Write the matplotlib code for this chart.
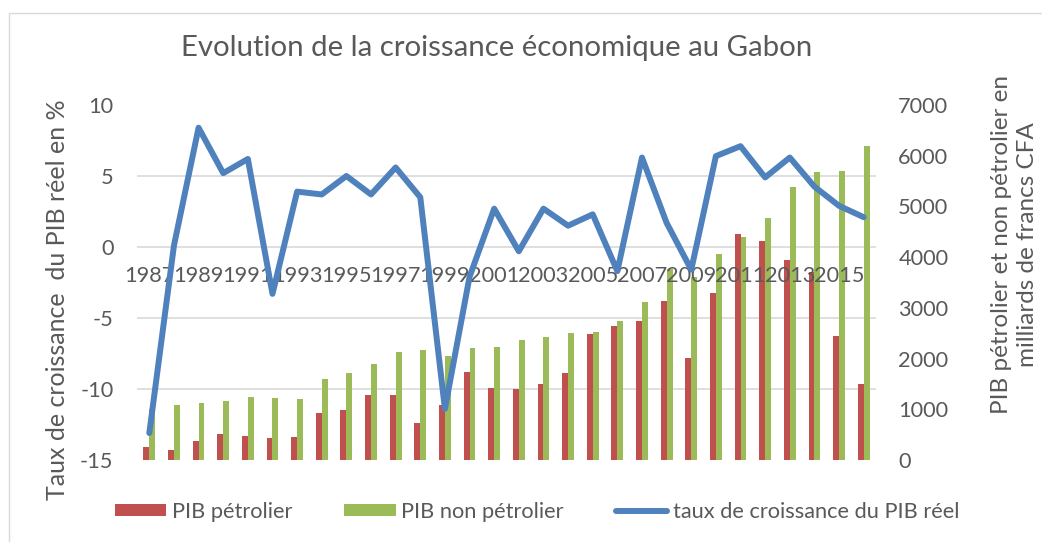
import numpy as np
import matplotlib.pyplot as plt
from matplotlib.patches import Rectangle

years = list(range(1987, 2017))
petrolier = [250, 197, 375, 506, 480, 440, 453, 933, 986, 1282, 1276, 723, 1085, 1735, 1426,
             1400, 1499, 1722, 2485, 2642, 2741, 3129, 2005, 3287, 4450, 4312, 3944, 3701, 2445, 1505]
non_petrolier = [1000, 1085, 1131, 1164, 1236, 1216, 1210, 1604, 1716, 1900, 2130, 2169, 2051, 2215, 2222,
                 2366, 2419, 2504, 2518, 2734, 3116, 3767, 3600, 4062, 4397, 4772, 5390, 5679, 5705, 6192]
croissance = [-13.1, 0.1, 8.4, 5.2, 6.2, -3.3, 3.9, 3.7, 5.0, 3.7, 5.6, 3.5, -11.4, -2.1, 2.7,
              -0.3, 2.7, 1.5, 2.3, -1.7, 6.3, 1.7, -1.6, 6.4, 7.1, 4.9, 6.3, 4.25, 2.9, 2.1]

plt.rcParams['font.family'] = ['Lato', 'DejaVu Sans']
plt.rcParams['axes.unicode_minus'] = False
txt = '#595959'
red, green, blue = '#C0504D', '#9BBB59', '#4F81BD'
fs = 15.7

fig = plt.figure(figsize=(10.42, 5.42), dpi=100)
fig.patches.append(Rectangle((9 / 1042, -0.2), 1.2, 1.2 - 13 / 542, transform=fig.transFigure,
                             fill=False, edgecolor='#D9D9D9', linewidth=1))
ax = fig.add_axes([137 / 1042, 1 - 460 / 542, (876 - 137) / 1042, (460 - 105) / 542])

x = np.arange(len(years))
w = 0.24
ax.bar(x - w / 2, petrolier, w, color=red, label='PIB pétrolier', zorder=2)
ax.bar(x + w / 2, non_petrolier, w, color=green, label='PIB non pétrolier', zorder=2)
ax.set_ylim(0, 7000)
ax.set_xlim(-0.5, len(years) - 0.5)
ax.set_yticks(np.arange(0, 7001, 1000))
ax.set_yticks(np.linspace(0, 7000, 6), minor=True)
ax.grid(which='minor', axis='y', color='#D9D9D9', linewidth=1.2, zorder=0)
for s in ax.spines.values():
    s.set_visible(False)

axl = ax.twinx()
axl.plot(x, croissance, color=blue, linewidth=4.3, solid_joinstyle='round',
         solid_capstyle='round', label='taux de croissance du PIB réel')
axl.set_ylim(-15, 10)
axl.set_yticks([-15, -10, -5, 0, 5, 10])
axl.yaxis.tick_left()
axl.yaxis.set_label_position('left')
axl.tick_params(axis='y', length=0, labelsize=fs, labelcolor=txt, pad=17)
axl.set_ylabel('Taux de croissance  du PIB réel en %', fontsize=18, color=txt, va='center')
axl.yaxis.set_label_coords(-0.108, 0.451)
axl.xaxis.set_visible(True)
axl.spines['bottom'].set_position(('data', 0))
for s in axl.spines.values():
    s.set_visible(False)
axl.set_xticks(x[::2])
axl.set_xticklabels([str(y) for y in years[::2]])
axl.tick_params(axis='x', length=0, labelsize=fs, labelcolor=txt, pad=14)

# host axis keeps the bar scale on the right (twinx resets it to the left)
ax.yaxis.tick_right()
ax.yaxis.set_label_position('right')
ax.tick_params(axis='y', which='both', length=0, labelsize=fs, labelcolor=txt, pad=16)
ax.tick_params(axis='x', length=0, labelbottom=False)
ax.set_ylabel('PIB pétrolier et non pétrolier en\nmilliards de francs CFA', fontsize=17.5,
              color=txt, linespacing=1.3, va='center')
ax.yaxis.set_label_coords(1.187, 0.606)

fig.suptitle('Evolution de la croissance économique au Gabon', x=497 / 1042, y=1 - 48 / 542,
             va='center', fontsize=21.2, color=txt)

h1, l1 = ax.get_legend_handles_labels()
h2, l2 = axl.get_legend_handles_labels()
fig.legend(h1 + h2, l1 + l2, loc='center', bbox_to_anchor=(537 / 1042, 1 - 512 / 542), ncol=3,
           frameon=False, fontsize=fs, labelcolor=txt, handlelength=2.35, handleheight=0.5,
           handletextpad=0.25, columnspacing=2.4)

fig.savefig('out.png', dpi=100)
